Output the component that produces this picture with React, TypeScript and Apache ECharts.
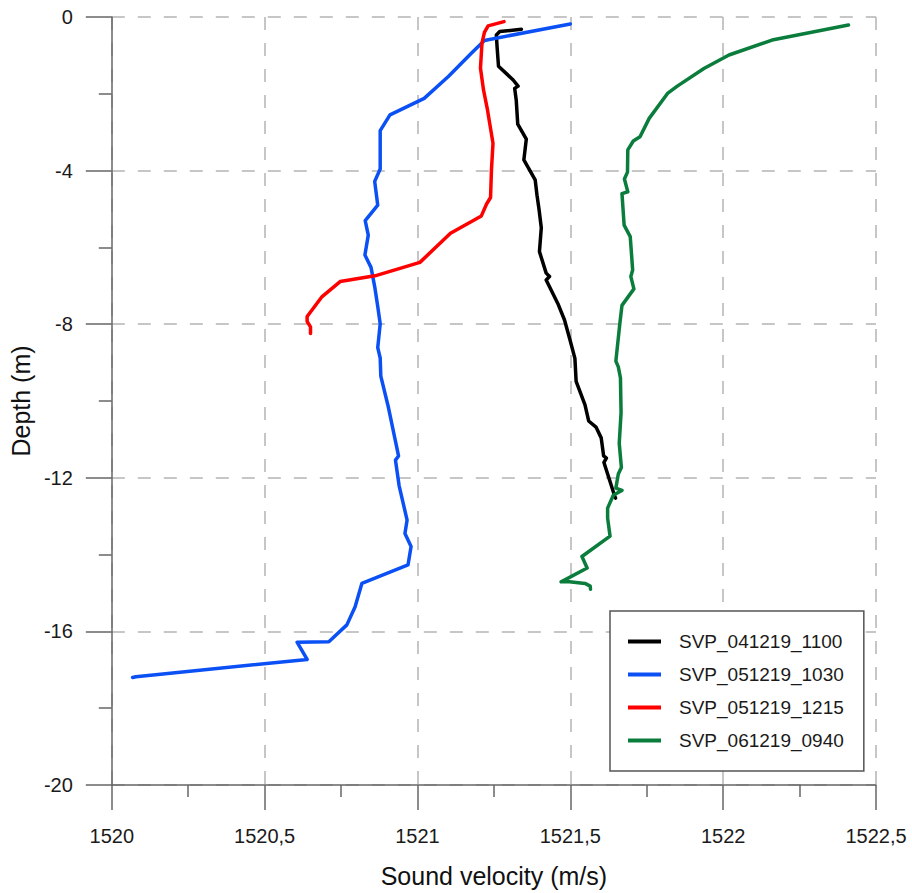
import React, { useEffect, useRef } from "react";
import * as echarts from "echarts";

const seriesNames = ["SVP_041219_1100", "SVP_051219_1030", "SVP_051219_1215", "SVP_061219_0940"];
const seriesColors = ["#000000", "#0a50f5", "#ff0000", "#0a7d3c"];

const blackVelocity = [1521.340, 1521.269, 1521.258, 1521.260, 1521.265, 1521.313, 1521.329, 1521.318, 1521.323, 1521.328, 1521.356, 1521.348, 1521.385, 1521.391, 1521.398, 1521.405, 1521.399, 1521.421, 1521.432, 1521.421, 1521.459, 1521.481, 1521.499, 1521.515, 1521.519, 1521.548, 1521.560, 1521.584, 1521.601, 1521.609, 1521.618, 1521.610, 1521.644, 1521.648];
const blackDepth = [-0.32, -0.38, -0.47, -0.73, -1.28, -1.64, -1.80, -1.86, -2.16, -2.79, -3.18, -3.72, -4.24, -4.64, -5.03, -5.49, -6.11, -6.67, -6.76, -6.85, -7.46, -7.89, -8.41, -8.89, -9.49, -10.10, -10.52, -10.68, -10.96, -11.43, -11.49, -11.60, -12.45, -12.53];

const blueVelocity = [1521.500, 1521.219, 1521.177, 1521.101, 1521.022, 1520.910, 1520.878, 1520.878, 1520.860, 1520.870, 1520.829, 1520.839, 1520.828, 1520.848, 1520.860, 1520.870, 1520.878, 1520.870, 1520.878, 1520.880, 1520.905, 1520.938, 1520.928, 1520.940, 1520.966, 1520.959, 1520.979, 1520.969, 1520.818, 1520.796, 1520.769, 1520.710, 1520.606, 1520.639, 1520.079, 1520.068];
const blueDepth = [-0.18, -0.61, -0.94, -1.55, -2.12, -2.55, -2.96, -3.96, -4.28, -4.90, -5.30, -5.68, -6.20, -6.52, -7.02, -7.54, -7.99, -8.61, -8.88, -9.35, -10.17, -11.43, -11.54, -12.21, -13.10, -13.45, -13.79, -14.27, -14.75, -15.36, -15.83, -16.27, -16.28, -16.73, -17.18, -17.20];

const redVelocity = [1521.283, 1521.231, 1521.219, 1521.211, 1521.206, 1521.216, 1521.229, 1521.247, 1521.242, 1521.239, 1521.226, 1521.209, 1521.108, 1521.008, 1520.861, 1520.747, 1520.688, 1520.639, 1520.639, 1520.650, 1520.650];
const redDepth = [-0.12, -0.23, -0.40, -0.68, -1.33, -1.90, -2.42, -3.29, -3.98, -4.70, -4.87, -5.18, -5.63, -6.39, -6.74, -6.89, -7.28, -7.80, -7.93, -8.07, -8.24];

const greenVelocity = [1522.410, 1522.160, 1522.019, 1521.937, 1521.850, 1521.818, 1521.758, 1521.728, 1521.706, 1521.688, 1521.687, 1521.677, 1521.688, 1521.669, 1521.676, 1521.696, 1521.704, 1521.698, 1521.708, 1521.669, 1521.662, 1521.649, 1521.657, 1521.664, 1521.666, 1521.660, 1521.667, 1521.657, 1521.649, 1521.669, 1521.641, 1521.622, 1521.622, 1521.630, 1521.538, 1521.555, 1521.470, 1521.497, 1521.548, 1521.565, 1521.566];
const greenDepth = [-0.21, -0.60, -0.99, -1.34, -1.80, -1.99, -2.64, -3.12, -3.23, -3.46, -4.04, -4.22, -4.55, -4.60, -5.42, -5.72, -6.59, -6.76, -7.08, -7.51, -7.98, -8.96, -9.11, -9.40, -10.31, -11.10, -11.73, -11.90, -12.27, -12.33, -12.45, -12.79, -13.05, -13.52, -14.05, -14.35, -14.71, -14.71, -14.75, -14.82, -14.90];

const xAxisTitle = "Sound velocity (m/s)";
const yAxisTitle = "Depth (m)";

const velocities = [blackVelocity, blueVelocity, redVelocity, greenVelocity];
const depths = [blackDepth, blueDepth, redDepth, greenDepth];

const FONT = "'Liberation Sans', Arial, Helvetica, sans-serif";

export default function App() {
  const ref = useRef<HTMLDivElement>(null);
  useEffect(() => {
    if (!ref.current) return;
    const chart = echarts.init(ref.current, null, { renderer: "svg" });
    const axisLineStyle = { color: "#666666", width: 1.5 };
    const gridStyle = { color: "#b4b4b4", width: 1.5, type: [13, 13] as number[] };
    const series = seriesNames.map((name, i) => ({
      name,
      type: "line",
      data: velocities[i].map((v, k) => [v, depths[i][k]]),
      symbol: "none",
      showSymbol: false,
      smooth: false,
      lineStyle: { color: seriesColors[i], width: 3.5, join: "round", cap: "round" },
      itemStyle: { color: seriesColors[i] },
      emphasis: { disabled: true },
    }));
    chart.setOption({
      animation: false,
      backgroundColor: "#ffffff",
      textStyle: { fontFamily: FONT },
      grid: { left: 109, top: 17, right: 36, bottom: 108, containLabel: false },
      xAxis: {
        type: "value",
        min: 1520,
        max: 1522.5,
        interval: 0.5,
        name: xAxisTitle,
        nameLocation: "middle",
        nameGap: 78,
        nameTextStyle: { fontSize: 25, color: "#111111", fontFamily: FONT },
        axisLine: { show: true, onZero: false, lineStyle: axisLineStyle },
        axisTick: { show: true, length: 25, lineStyle: axisLineStyle },
        minorTick: { show: true, splitNumber: 2, length: 12, lineStyle: axisLineStyle },
        axisLabel: {
          fontSize: 20,
          color: "#1a1a1a",
          margin: 41,
          fontFamily: FONT,
          formatter: (v: number) => String(v).replace(".", ","),
        },
        splitLine: { show: true, lineStyle: gridStyle },
      },
      yAxis: {
        type: "value",
        min: -20,
        max: 0,
        interval: 4,
        name: yAxisTitle,
        nameLocation: "middle",
        nameGap: 74,
        nameTextStyle: { fontSize: 25, color: "#111111", fontFamily: FONT },
        axisLine: { show: true, onZero: false, lineStyle: axisLineStyle },
        axisTick: { show: true, length: 26, lineStyle: axisLineStyle },
        minorTick: { show: true, splitNumber: 2, length: 13, lineStyle: axisLineStyle },
        axisLabel: { fontSize: 20, color: "#1a1a1a", margin: 39, fontFamily: FONT },
        splitLine: { show: true, lineStyle: gridStyle },
      },
      legend: {
        data: seriesNames,
        orient: "vertical",
        left: 610,
        top: 611,
        icon: "rect",
        itemWidth: 33,
        itemHeight: 4,
        itemGap: 14,
        padding: [21, 20, 21, 18],
        borderColor: "#555555",
        borderWidth: 1.5,
        backgroundColor: "#ffffff",
        textStyle: { fontSize: 19, color: "#1a1a1a", fontFamily: FONT, padding: [0, 0, 0, 13] },
      },
      series,
    });
    return () => chart.dispose();
  }, []);
  return (
    <div
      ref={ref}
      style={{ position: "fixed", left: 0, top: 0, width: 912, height: 893, background: "#fff" }}
    />
  );
}
